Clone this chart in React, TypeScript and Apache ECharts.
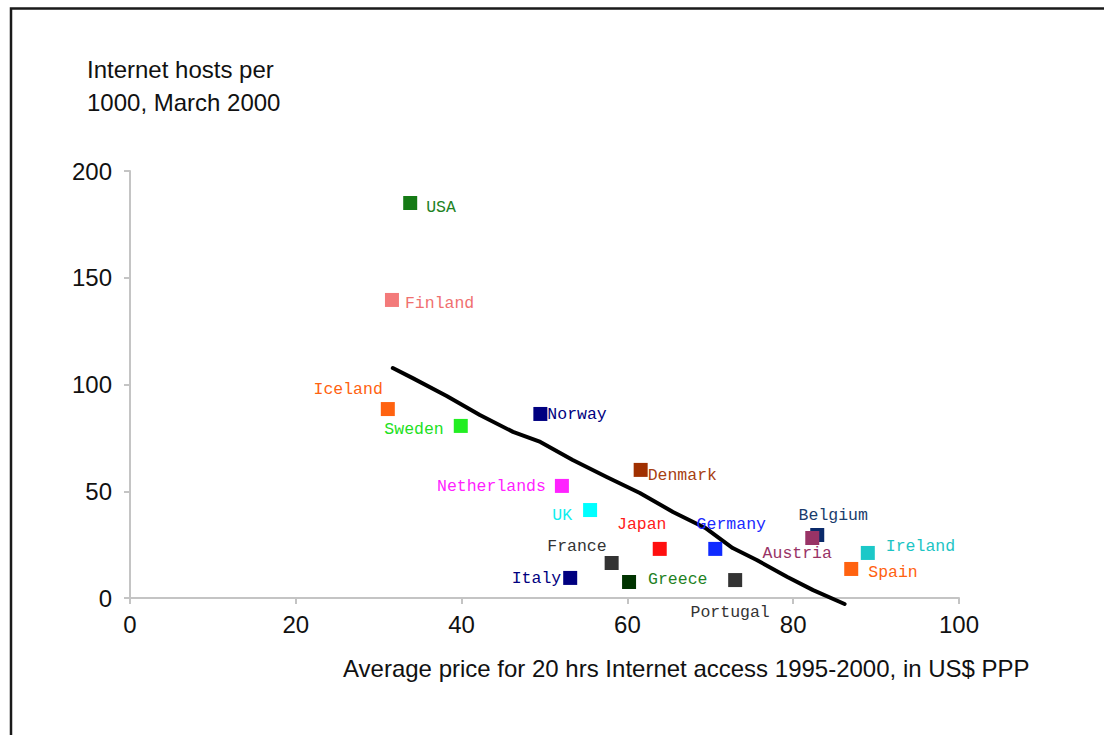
import React, { useEffect, useRef } from "react";
import * as echarts from "echarts";

const countries = ["USA", "Finland", "Iceland", "Sweden", "Norway", "Denmark", "Netherlands", "UK", "Japan", "Germany", "France", "Italy", "Greece", "Portugal", "Belgium", "Austria", "Ireland", "Spain"];
const labels = ["USA", "Finland", "Iceland", "Sweden", "Norway", "Denmark", "Netherlands", "UK", "Japan", "Germany", "France", "Italy", "Greece", "Portugal", "Belgium", "Austria", "Ireland", "Spain"];
const prices = [33.8, 31.6, 31.1, 39.9, 49.5, 61.6, 52.1, 55.5, 63.9, 70.6, 58.1, 53.1, 60.2, 73.0, 82.9, 82.3, 89.0, 87.0];
const hosts = [185.0, 139.6, 88.5, 80.6, 86.2, 60.0, 52.5, 41.2, 23.0, 23.0, 16.4, 9.4, 7.5, 8.4, 29.5, 28.1, 21.1, 13.6];

const trendX = [31.7, 34.1, 38.2, 42.2, 46.2, 49.5, 53.4, 57.5, 61.5, 65.5, 69.4, 72.7, 75.6, 79.3, 82.4, 86.2];
const trendY = [107.7, 103.0, 94.6, 85.7, 77.8, 73.1, 64.6, 56.7, 49.2, 40.3, 32.8, 23.4, 17.8, 9.8, 3.7, -2.8];

const xTicks = [0, 20, 40, 60, 80, 100];
const yTicks = [0, 50, 100, 150, 200];

const yTitle = "Internet hosts per\n1000, March 2000";
const xTitle = "Average price for 20 hrs Internet access 1995-2000, in US$ PPP";

// styles per country: marker colour, label colour, alignment, offset from marker centre
const styles: Record<string, { m: string; t: string; align: string; dx: number; dy: number }> = {
  USA: { m: "#157a15", t: "#1f821f", align: "left", dx: 16, dy: 4 },
  Finland: { m: "#f37a7a", t: "#f07070", align: "left", dx: 13, dy: 4 },
  Iceland: { m: "#ff6210", t: "#ff6210", align: "right", dx: -5, dy: -20 },
  Sweden: { m: "#22ee22", t: "#22e022", align: "right", dx: -17, dy: 4 },
  Norway: { m: "#000080", t: "#000080", align: "left", dx: 7, dy: 1 },
  Denmark: { m: "#a03000", t: "#a84010", align: "left", dx: 7, dy: 6 },
  Netherlands: { m: "#ff22ff", t: "#ff22ff", align: "right", dx: -16, dy: 1 },
  UK: { m: "#00ffff", t: "#11eeee", align: "right", dx: -18, dy: 5 },
  Japan: { m: "#ff0f0f", t: "#ff1a1a", align: "center", dx: -18, dy: -24 },
  Germany: { m: "#0f2aff", t: "#1a2aff", align: "center", dx: 16, dy: -24 },
  France: { m: "#333333", t: "#333333", align: "right", dx: -5, dy: -16 },
  Italy: { m: "#000080", t: "#000080", align: "right", dx: -9, dy: 1 },
  Greece: { m: "#003300", t: "#1f821f", align: "left", dx: 19, dy: -2 },
  Portugal: { m: "#333333", t: "#333333", align: "center", dx: -5, dy: 32 },
  Belgium: { m: "#0a2a6a", t: "#1a3c6c", align: "center", dx: 16, dy: -20 },
  Austria: { m: "#993366", t: "#993366", align: "center", dx: -15, dy: 15 },
  Ireland: { m: "#1cc8c8", t: "#1cc4c4", align: "left", dx: 18, dy: -6 },
  Spain: { m: "#ff6210", t: "#ff6210", align: "left", dx: 17, dy: 4 },
};

export default function App() {
  const ref = useRef<HTMLDivElement>(null);
  useEffect(() => {
    if (!ref.current) return;
    const chart = echarts.init(ref.current, undefined, { renderer: "svg" });
    const sans = "'Liberation Sans', Arial, sans-serif";
    const mono = "'Courier New', 'Liberation Mono', monospace";
    const scatterData = countries.map((c, i) => {
      const s = styles[c];
      return {
        name: c,
        value: [prices[i], hosts[i]],
        itemStyle: { color: s.m, opacity: 1 },
        label: {
          show: true,
          position: "inside",
          formatter: labels[i],
          color: s.t,
          align: s.align,
          verticalAlign: "middle",
          offset: [s.dx, s.dy],
          fontFamily: mono,
          fontSize: 16.5,
        },
      };
    });
    chart.setOption({
      animation: false,
      backgroundColor: "#ffffff",
      grid: { left: 130, right: 145, top: 171, bottom: 137 },
      xAxis: {
        type: "value",
        min: xTicks[0],
        max: xTicks[xTicks.length - 1],
        interval: 20,
        axisLine: { show: true, lineStyle: { color: "#c4c4c4", width: 2 } },
        axisTick: { show: true, length: 6, lineStyle: { color: "#c4c4c4", width: 2 } },
        splitLine: { show: false },
        axisLabel: { color: "#111", fontSize: 24, fontFamily: sans, margin: 14 },
      },
      yAxis: {
        type: "value",
        min: yTicks[0],
        max: yTicks[yTicks.length - 1],
        interval: 50,
        axisLine: { show: true, lineStyle: { color: "#c4c4c4", width: 2 } },
        axisTick: { show: true, length: 6, lineStyle: { color: "#c4c4c4", width: 2 } },
        splitLine: { show: false },
        axisLabel: { color: "#111", fontSize: 24, fontFamily: sans, margin: 18 },
      },
      series: [
        {
          type: "line",
          data: trendX.map((x, i) => [x, trendY[i]]),
          showSymbol: false,
          symbol: "none",
          clip: false,
          smooth: false,
          lineStyle: { color: "#000", width: 4, join: "round", cap: "round" },
          z: 2,
        },
        {
          type: "scatter",
          symbol: "rect",
          symbolSize: 14,
          data: scatterData,
          z: 3,
        },
      ],
      graphic: [
        {
          type: "rect",
          shape: { x: 11, y: 8.5, width: 1200, height: 800 },
          style: { fill: "none", stroke: "#1a1a1a", lineWidth: 2.5 },
          silent: true,
        },
        {
          type: "text",
          left: 87,
          top: 53,
          style: { text: yTitle, fontSize: 24, fontFamily: sans, fill: "#111", lineHeight: 33 },
        },
        {
          type: "text",
          left: 343,
          top: 656,
          style: { text: xTitle, fontSize: 24, fontFamily: sans, fill: "#111" },
        },
      ],
    });
    return () => chart.dispose();
  }, []);
  return (
    <div
      ref={ref}
      style={{ position: "absolute", left: 0, top: 0, width: 1104, height: 735, background: "#fff" }}
    />
  );
}
